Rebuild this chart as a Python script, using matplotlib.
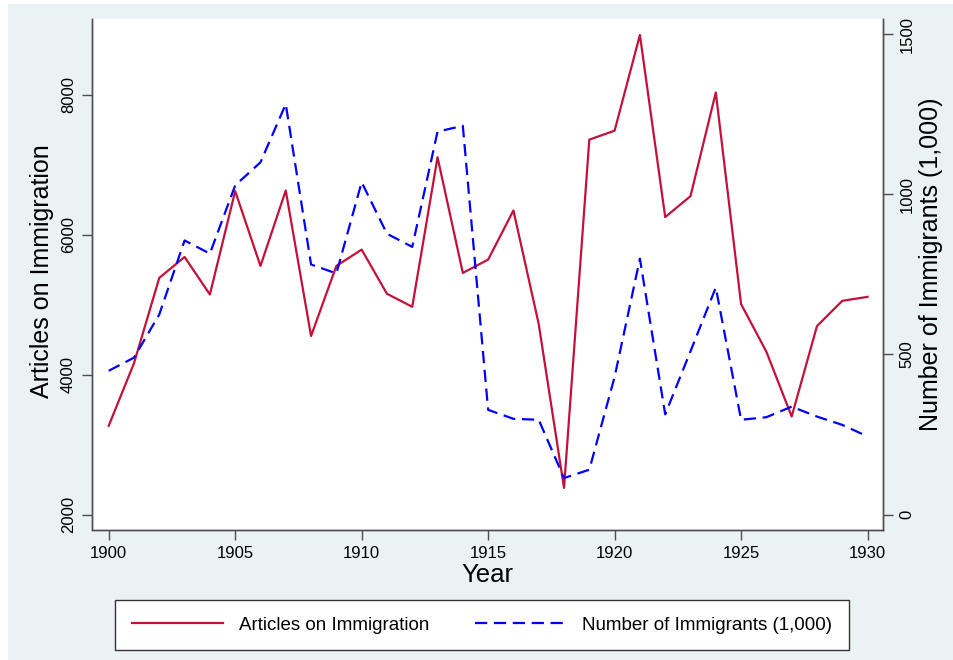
import matplotlib
matplotlib.use("Agg")
import matplotlib.pyplot as plt
from matplotlib.patches import Rectangle
from matplotlib.lines import Line2D

plt.rcParams['font.family'] = ['Liberation Sans', 'DejaVu Sans']

years = list(range(1900, 1931))
articles = [3268, 4162, 5382, 5681, 5145, 6622, 5553, 6631, 4551, 5553,
            5786, 5155, 4969, 7106, 5453, 5643, 6346, 4722, 2380, 7358,
            7486, 8854, 6251, 6550, 8032, 5007, 4327, 3401, 4693, 5054, 5111]
immigrants = [449, 490, 625, 856, 815, 1028, 1100, 1282, 781, 753,
              1038, 877, 836, 1196, 1214, 327, 299, 296, 114, 140,
              430, 799, 313, 510, 709, 296, 304, 337, 306, 280, 244]
left_ticks = [2000, 4000, 6000, 8000]
right_ticks = [0, 500, 1000, 1500]
x_ticks = [1900, 1905, 1910, 1915, 1920, 1925, 1930]

W, H = 954, 660
fig = plt.figure(figsize=(W / 100, H / 100), dpi=100)
fig.patch.set_facecolor('white')
bg = Rectangle((8 / W, 0), 1 - 8 / W, 1 - 4 / H, transform=fig.transFigure,
               facecolor='#EAF2F3', edgecolor='none', zorder=-10)
fig.patches.append(bg)

l, r, b, t = 92.5, 883, 529.5, 19
ax = fig.add_axes([l / W, 1 - b / H, (r - l) / W, (b - t) / H])
ax.set_facecolor('white')
ax2 = ax.twinx()

red = '#C4113A'
blue = '#0000FF'
axc = '#4d4d4d'
tickfont = dict(size=12)

ax.plot(years, articles, color=red, lw=1.6, zorder=3)
ax2.plot(years, immigrants, color=blue, lw=1.6, dashes=(5.5, 3), zorder=3)

ax.set_xlim(1899.36, 1930.61)
ax.set_ylim(1786, 9082)
ax2.set_ylim(-46.7, 1547.7)

ax.set_xticks(x_ticks)
ax.set_yticks(left_ticks)
ax2.set_yticks(right_ticks)
ax.set_xticklabels([str(v) for v in x_ticks], fontdict=tickfont)
ax.set_yticklabels([str(v) for v in left_ticks], fontdict=tickfont, rotation=90, va='center')
ax2.set_yticklabels([str(v) for v in right_ticks], fontdict=tickfont, rotation=90, va='center')

for a in (ax, ax2):
    for s in a.spines.values():
        s.set_color(axc)
        s.set_linewidth(1.0)
    a.spines['top'].set_visible(False)
    a.tick_params(colors=axc, labelcolor='black', length=7, width=1.0, pad=5)

ax.set_xlabel('Year', fontsize=18.5)
ax.xaxis.set_label_coords(0.5, -(575 - 529.5) / (529.5 - 19), transform=ax.transAxes)
ax.xaxis.label.set_va('center')
ax.set_ylabel('Articles on Immigration', fontsize=18)
ax.yaxis.set_label_coords((42 - 92.5) / (883 - 92.5), (529.5 - 271) / (529.5 - 19))
ax.yaxis.label.set_va('center')
ax2.set_ylabel('Number of Immigrants (1,000)', fontsize=18)
ax2.yaxis.set_label_coords((931 - 92.5) / (883 - 92.5), (529.5 - 264) / (529.5 - 19))
ax2.yaxis.label.set_va('center')

handles = [Line2D([], [], color=red, lw=1.6),
           Line2D([], [], color=blue, lw=1.6, dashes=(5.5, 3))]
labels = ['Articles on Immigration', 'Number of Immigrants (1,000)']
leg = fig.legend(handles, labels, loc='center', bbox_to_anchor=(482 / W, 1 - 625 / H),
                 ncol=2, fontsize=13.5, handlelength=4.9, handletextpad=0.85,
                 columnspacing=2.4, borderpad=0.9, frameon=True, fancybox=False,
                 edgecolor='#333333', framealpha=1)
leg.get_frame().set_linewidth(1.0)

fig.savefig('out.png', dpi=100, facecolor=fig.get_facecolor())
